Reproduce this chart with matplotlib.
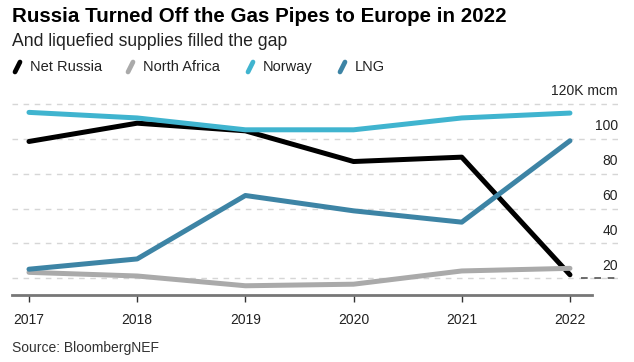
import matplotlib.pyplot as plt
from matplotlib.lines import Line2D

plt.rcParams['font.family'] = ['Liberation Sans', 'DejaVu Sans']

years = [2017, 2018, 2019, 2020, 2021, 2022]
net_russia = [98.5, 109, 104.6, 87, 89.5, 22]
north_africa = [23.4, 21.3, 15.7, 16.6, 24.2, 25.7]
norway = [115.2, 112, 105.2, 105.2, 112, 114.8]
lng = [25.2, 31.1, 67.5, 58.7, 52.2, 98.9]

series = [
    ("Net Russia", net_russia, "#000000"),
    ("North Africa", north_africa, "#aaaaaa"),
    ("Norway", norway, "#40b4cf"),
    ("LNG", lng, "#3d84a5"),
]
y_ticks = [20, 40, 60, 80, 100, 120]
y_labels = ["20", "40", "60", "80", "100", "120K mcm"]

W, H = 634, 362
fig = plt.figure(figsize=(W / 100, H / 100), dpi=100)
ax = fig.add_axes([12 / W, (H - 295) / H, 606 / W, 195 / H])

ax.set_xlim(2016.843, 2022.444)
ax.set_ylim(10.4, 122.3)

# gridlines
for v in y_ticks:
    ax.plot([2016.843, 2022.444], [v, v], color="#d6d6d6", lw=1,
            dashes=(4, 4), zorder=1)
ax.plot([2022.1, 2022.444], [20, 20], color="#555555", lw=1.2,
        dashes=(4, 4), zorder=1)

for name, vals, col in series:
    ax.plot(years, vals, color=col, lw=3.6, solid_capstyle="round",
            solid_joinstyle="round", zorder=3)

for v, lab in zip(y_ticks, y_labels):
    ax.text(1.0, v + 3.2, lab, transform=ax.get_yaxis_transform(),
            ha="right", va="bottom", fontsize=10, color="#222222")

for s in ["top", "right", "left"]:
    ax.spines[s].set_visible(False)
ax.spines["bottom"].set_color("#777777")
ax.spines["bottom"].set_linewidth(2)
ax.spines["bottom"].set_bounds(2016.843, 2022.203)
ax.set_yticks([])
ax.set_xticks(years)
ax.set_xticklabels([str(y) for y in years], fontsize=10, color="#222222")
ax.tick_params(axis="x", length=5, width=1, color="#333333", pad=8)

fig.text(12 / W, 1 - 16 / H, "Russia Turned Off the Gas Pipes to Europe in 2022",
         fontsize=14.8, fontweight="bold", va="center", ha="left")
fig.text(12 / W, 1 - 42 / H, "And liquefied supplies filled the gap",
         fontsize=12.7, va="center", ha="left", color="#222222")

# legend
lx = [12, 125, 245, 337]
for x0, (name, vals, col) in zip(lx, series):
    fig.add_artist(Line2D([(x0 + 3) / W, (x0 + 8) / W],
                          [1 - 72 / H, 1 - 62 / H], color=col, lw=3.4,
                          solid_capstyle="round"))
    fig.text((x0 + 18) / W, 1 - 67 / H, name, fontsize=10.5,
             va="center", ha="left", color="#222222")

fig.text(12 / W, 1 - 348 / H, "Source: BloombergNEF", fontsize=10,
         va="center", ha="left", color="#333333")

fig.savefig("out.png", dpi=100)
